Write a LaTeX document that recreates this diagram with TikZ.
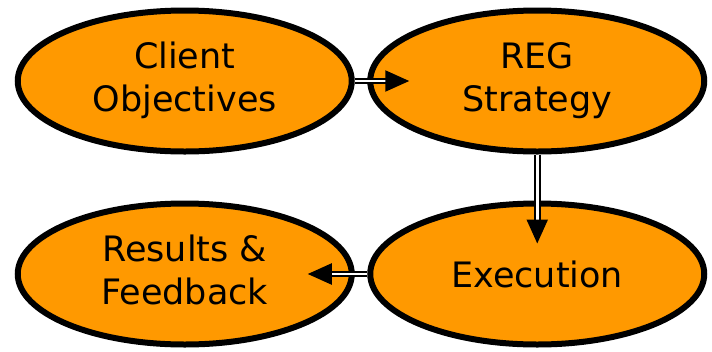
\documentclass[tikz,border=0pt]{standalone}
\usepackage{fontspec}
\setmainfont{DejaVu Sans}
\usetikzlibrary{matrix,arrows.meta,positioning,shapes.geometric}
\definecolor{stageorange}{RGB}{255,153,0}
\newcommand{\stagelines}[2]{\begin{tabular}{@{}c@{}}#1\\#2\end{tabular}}

\tikzset{
	stage/.style={ellipse, draw, line width=6pt, fill=stageorange, minimum width=334pt, minimum height=141pt, inner sep=0pt, anchor=center, font=\fontsize{35}{43}\selectfont},
	flow/.style={draw=black, double=white, double distance=2.5pt, line width=2.2pt, -{Triangle[length=24pt,width=21pt]}}
}

\begin{document}
\begin{tikzpicture}[x=1pt,y=-1pt]
	\useasboundingbox (0,0) rectangle (712,351);
	\matrix (m) at (361,177.5) [matrix of nodes, row sep=46pt, column sep=12.5pt, nodes={stage}]
	{
		\stagelines{Client}{Objectives} & \stagelines{REG}{Strategy} \\
		\stagelines{Results \&}{Feedback} & Execution \\
	};
	\draw[flow] (m-1-1.east) -- ([xshift=42pt]m-1-2.west);
	\draw[flow] (m-1-2.south) -- ([yshift=-43pt]m-2-2.north);
	\draw[flow] (m-2-2.west) -- ([xshift=-47pt]m-2-1.east);
\end{tikzpicture}
\end{document}
